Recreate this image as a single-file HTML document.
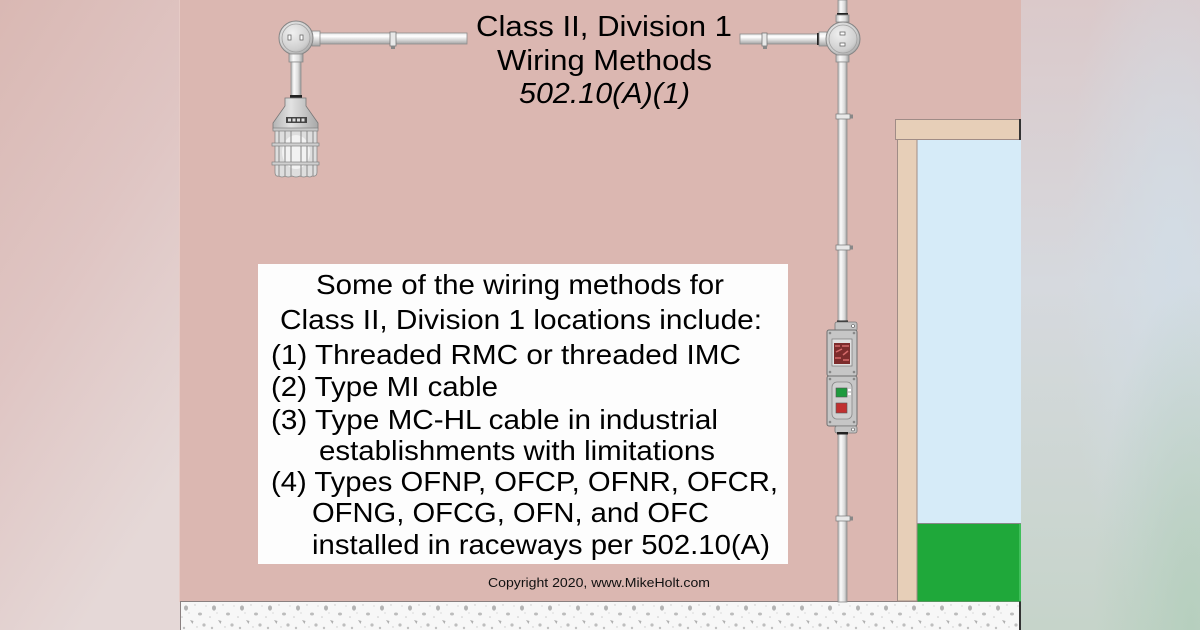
<!DOCTYPE html>
<html><head><meta charset="utf-8"><style>
html,body{margin:0;padding:0;width:1200px;height:630px;overflow:hidden;background:#dbb7b1}
svg{display:block}
</style></head><body>
<svg width="1200" height="630" viewBox="0 0 1200 630" xmlns="http://www.w3.org/2000/svg" font-family="'Liberation Sans', Arial, sans-serif">
<defs>
<linearGradient id="lbg" x1="0" y1="0" x2="0.45" y2="1">
<stop offset="0" stop-color="#d9b8b3"/><stop offset="0.5" stop-color="#dfc5c3"/><stop offset="1" stop-color="#e5d8d7"/>
</linearGradient>
<linearGradient id="rbg" x1="0" y1="0" x2="0" y2="1">
<stop offset="0" stop-color="#dbc9ca"/><stop offset="0.45" stop-color="#d6d9de"/><stop offset="1" stop-color="#c6d4ca"/>
</linearGradient>
<radialGradient id="rbg2" cx="0.85" cy="0.42" r="0.6">
<stop offset="0" stop-color="#d2dde6" stop-opacity="0.9"/><stop offset="1" stop-color="#d2dde6" stop-opacity="0"/>
</radialGradient>
<radialGradient id="rbg3" cx="0.95" cy="1" r="0.55">
<stop offset="0" stop-color="#b6cfbe"/><stop offset="1" stop-color="#b6cfbe" stop-opacity="0"/>
</radialGradient>
<linearGradient id="hp" x1="0" y1="0" x2="0" y2="1">
<stop offset="0" stop-color="#e6e6e6"/><stop offset="0.3" stop-color="#ffffff"/><stop offset="0.65" stop-color="#d4d4d4"/><stop offset="1" stop-color="#a4a4a4"/>
</linearGradient>
<linearGradient id="vp" x1="0" y1="0" x2="1" y2="0">
<stop offset="0" stop-color="#b8b8b8"/><stop offset="0.3" stop-color="#fafafa"/><stop offset="0.7" stop-color="#dcdcdc"/><stop offset="1" stop-color="#9c9c9c"/>
</linearGradient>
<radialGradient id="jb" cx="0.4" cy="0.35" r="0.7">
<stop offset="0" stop-color="#f0f0f0"/><stop offset="0.7" stop-color="#cfcfcf"/><stop offset="1" stop-color="#a8a8a8"/>
</radialGradient>
<linearGradient id="body" x1="0" y1="0" x2="1" y2="0">
<stop offset="0" stop-color="#b4b4b4"/><stop offset="0.4" stop-color="#e2e2e2"/><stop offset="1" stop-color="#a8a8a8"/>
</linearGradient>
<pattern id="fl" width="28" height="29" patternUnits="userSpaceOnUse" x="180" y="602">
<rect width="28" height="29" fill="#f7f7f7"/>
<ellipse cx="6" cy="6" rx="2" ry="2.6" fill="#b4b4b4"/>
<ellipse cx="20" cy="12" rx="2" ry="1.5" fill="#bcbcbc"/>
<path d="M10 18 l3.5 1 -1 3z" fill="#b0b0b0"/>
<circle cx="24" cy="23" r="1.6" fill="#bebebe"/>
<circle cx="2" cy="15" r="0.8" fill="#c8c8c8"/>
<circle cx="15" cy="3" r="0.7" fill="#c8c8c8"/>
<circle cx="17" cy="25" r="0.7" fill="#c8c8c8"/>
<circle cx="9" cy="11" r="0.6" fill="#c8c8c8"/>
<circle cx="26" cy="4" r="0.6" fill="#c8c8c8"/>
<circle cx="4" cy="26" r="1.2" fill="#c0c0c0"/>
</pattern>
</defs>

<!-- side backgrounds -->
<rect x="0" y="0" width="180" height="630" fill="url(#lbg)"/>
<rect x="1021" y="0" width="179" height="630" fill="url(#rbg)"/>
<rect x="1021" y="0" width="179" height="630" fill="url(#rbg2)"/>
<rect x="1021" y="0" width="179" height="630" fill="url(#rbg3)"/>

<!-- wall -->
<rect x="180" y="0" width="841" height="602" fill="#dbb7b1"/>
<line x1="179.5" y1="0" x2="179.5" y2="602" stroke="#e6cbc6" stroke-width="1"/>

<!-- floor -->
<rect x="180" y="601.5" width="841" height="29" fill="url(#fl)"/>
<line x1="180" y1="601.5" x2="1021" y2="601.5" stroke="#8a8080" stroke-width="1"/>
<line x1="180.5" y1="601" x2="180.5" y2="630" stroke="#8a8080" stroke-width="1"/>
<rect x="1019" y="601" width="2" height="29" fill="#333"/>

<!-- door / window -->
<rect x="917" y="139" width="104" height="385" fill="#d6ebf8"/>
<line x1="917" y1="139" x2="917" y2="524" stroke="#9aa8b0" stroke-width="1"/>
<rect x="917" y="523.5" width="104" height="78" fill="#1fa83a"/>
<line x1="917" y1="523.5" x2="1021" y2="523.5" stroke="#888" stroke-width="1"/>
<rect x="1019" y="524" width="2" height="77" fill="#3fbf5a"/>
<rect x="897.5" y="139" width="19.5" height="462" fill="#e7cfb8" stroke="#a08c86" stroke-width="1"/>
<rect x="895.5" y="119.5" width="125" height="20" fill="#e7cfb8" stroke="#a08c86" stroke-width="1"/>
<rect x="1019" y="119" width="2" height="21" fill="#333"/>

<!-- LEFT fixture assembly -->
<rect x="318" y="33" width="149" height="11" fill="url(#hp)" stroke="#8c8c8c" stroke-width="0.8"/>
<rect x="390" y="32" width="6" height="14" fill="#e8e8e8" stroke="#777" stroke-width="0.8"/>
<rect x="391" y="46" width="4" height="3" fill="#888"/>
<rect x="312" y="31" width="8" height="15" fill="url(#hp)" stroke="#888" stroke-width="0.8"/>
<circle cx="296" cy="38" r="17" fill="url(#jb)" stroke="#858585" stroke-width="1"/>
<circle cx="296" cy="38" r="14" fill="none" stroke="#a0a0a0" stroke-width="0.8"/>
<rect x="288" y="35" width="3" height="5" fill="#fff" stroke="#666" stroke-width="0.8"/>
<rect x="300" y="35" width="3" height="5" fill="#fff" stroke="#666" stroke-width="0.8"/>
<rect x="289" y="54" width="14" height="8" fill="url(#vp)" stroke="#888" stroke-width="0.8"/>
<rect x="291" y="62" width="10" height="34" fill="url(#vp)" stroke="#8c8c8c" stroke-width="0.8"/>
<rect x="290" y="95" width="12" height="3" fill="#222"/>
<path d="M285 98 L306 98 L306 106 L318 123 L318 129 L273 129 L273 123 L285 106 Z" fill="url(#body)" stroke="#777" stroke-width="0.8"/>
<rect x="286" y="117" width="21" height="6" fill="#444"/>
<g fill="#ddd"><rect x="288" y="118.5" width="3" height="3"/><rect x="292.5" y="118.5" width="3" height="3"/><rect x="297" y="118.5" width="3" height="3"/><rect x="301.5" y="118.5" width="3" height="3"/></g>
<path d="M275 129 L317 129 L317 172 Q317 177 312 176 Q310 178 307 176 Q304 178 300 176 Q296 178 292 176 Q288 178 285 176 Q282 178 279 176 Q275 177 275 172 Z" fill="#dedede" stroke="#888" stroke-width="0.8"/>
<ellipse cx="296" cy="152" rx="14" ry="17" fill="#f2f2f2"/>
<g stroke="#999" stroke-width="1.2">
<line x1="279" y1="129" x2="279" y2="176"/><line x1="285" y1="129" x2="285" y2="176"/><line x1="291" y1="129" x2="291" y2="177"/><line x1="301" y1="129" x2="301" y2="177"/><line x1="307" y1="129" x2="307" y2="176"/><line x1="313" y1="129" x2="313" y2="176"/>
</g>
<rect x="272" y="143" width="47" height="3" fill="#d0d0d0" stroke="#808080" stroke-width="0.7"/>
<rect x="272" y="162" width="47" height="3" fill="#d0d0d0" stroke="#808080" stroke-width="0.7"/>
<rect x="273" y="128" width="45" height="3" fill="#c8c8c8" stroke="#808080" stroke-width="0.7"/>

<!-- RIGHT assembly -->
<rect x="838" y="0" width="9" height="14" fill="url(#vp)" stroke="#8c8c8c" stroke-width="0.8"/>
<rect x="837" y="13" width="11" height="2.5" fill="#222"/>
<rect x="836" y="15" width="13" height="7" fill="url(#vp)" stroke="#888" stroke-width="0.8"/>
<rect x="740" y="34" width="78" height="10" fill="url(#hp)" stroke="#8c8c8c" stroke-width="0.8"/>
<rect x="762" y="33" width="5" height="13" fill="#e8e8e8" stroke="#777" stroke-width="0.8"/>
<rect x="763" y="46" width="4" height="3" fill="#888"/>
<rect x="817" y="33" width="2.5" height="12" fill="#222"/>
<rect x="819" y="32" width="8" height="14" fill="url(#hp)" stroke="#888" stroke-width="0.8"/>
<circle cx="843" cy="39" r="17" fill="url(#jb)" stroke="#858585" stroke-width="1"/>
<circle cx="843" cy="39" r="14" fill="none" stroke="#a0a0a0" stroke-width="0.8"/>
<rect x="840" y="32" width="5" height="3" fill="#fff" stroke="#666" stroke-width="0.8"/>
<rect x="840" y="43" width="5" height="3" fill="#fff" stroke="#666" stroke-width="0.8"/>
<rect x="836" y="55" width="13" height="7" fill="url(#vp)" stroke="#888" stroke-width="0.8"/>
<rect x="838" y="62" width="9" height="260" fill="url(#vp)" stroke="#8c8c8c" stroke-width="0.8"/>
<rect x="838" y="432" width="9" height="170" fill="url(#vp)" stroke="#8c8c8c" stroke-width="0.8"/>
<g>
<rect x="836" y="114" width="14" height="5" fill="#e8e8e8" stroke="#777" stroke-width="0.7"/><rect x="850" y="114.5" width="3" height="4" fill="#888"/>
<rect x="836" y="245" width="14" height="5" fill="#e8e8e8" stroke="#777" stroke-width="0.7"/><rect x="850" y="245.5" width="3" height="4" fill="#888"/>
<rect x="836" y="516" width="14" height="5" fill="#e8e8e8" stroke="#777" stroke-width="0.7"/><rect x="850" y="516.5" width="3" height="4" fill="#888"/>
</g>
<rect x="837" y="320.5" width="11" height="2.5" fill="#222"/>
<rect x="835" y="322" width="22" height="9" rx="2" fill="#c4c4c4" stroke="#777" stroke-width="0.8"/>
<circle cx="853" cy="326" r="1.5" fill="#fff" stroke="#555" stroke-width="0.6"/>
<rect x="827" y="330" width="30" height="46" rx="2" fill="#c6c6c6" stroke="#6e6e6e" stroke-width="1"/>
<circle cx="830" cy="333" r="1.3" fill="#888"/><circle cx="854" cy="333" r="1.3" fill="#888"/>
<circle cx="830" cy="372" r="1.3" fill="#888"/><circle cx="854" cy="372" r="1.3" fill="#888"/>
<rect x="832" y="339" width="20" height="27" fill="#e0e0e0" stroke="#777" stroke-width="0.7"/>
<rect x="834" y="343" width="16" height="21" fill="#7d2c2c"/>
<path d="M835 346 h5 M842 346 h7 M836 352 l6 -3 M843 355 l5 -4 M835 358 h6 M843 360 h6" stroke="#d46a6a" stroke-width="1.5"/>
<rect x="827" y="376" width="30" height="50" rx="2" fill="#c6c6c6" stroke="#6e6e6e" stroke-width="1"/>
<circle cx="830" cy="379" r="1.3" fill="#888"/><circle cx="854" cy="379" r="1.3" fill="#888"/>
<circle cx="830" cy="422" r="1.3" fill="#888"/><circle cx="854" cy="422" r="1.3" fill="#888"/>
<rect x="832" y="382" width="20" height="37" rx="5" fill="#d0d0d0" stroke="#888" stroke-width="0.8"/>
<rect x="836" y="388" width="11" height="9" fill="#1e9a3e" stroke="#555" stroke-width="0.6"/>
<rect x="836" y="403" width="11" height="10" fill="#c03030" stroke="#555" stroke-width="0.6"/>
<rect x="848" y="389" width="3" height="2" fill="#fff"/><rect x="848" y="393" width="3" height="2" fill="#fff"/>
<rect x="835" y="426" width="22" height="7" rx="2" fill="#c4c4c4" stroke="#777" stroke-width="0.8"/>
<circle cx="853" cy="429.5" r="1.5" fill="#fff" stroke="#555" stroke-width="0.6"/>
<rect x="837" y="432" width="11" height="2.5" fill="#222"/>

<!-- Title -->
<g fill="#000" font-size="29">
<text x="476" y="36" textLength="256" lengthAdjust="spacingAndGlyphs">Class II, Division 1</text>
<text x="497" y="70" textLength="215" lengthAdjust="spacingAndGlyphs">Wiring Methods</text>
<text x="519" y="103" textLength="171" lengthAdjust="spacingAndGlyphs" font-style="italic">502.10(A)(1)</text>
</g>

<!-- text box -->
<rect x="258" y="264" width="530" height="300" fill="#fdfdfd"/>
<g fill="#000" font-size="27.5">
<text x="316" y="294" textLength="408" lengthAdjust="spacingAndGlyphs">Some of the wiring methods for</text>
<text x="280" y="329" textLength="482" lengthAdjust="spacingAndGlyphs">Class II, Division 1 locations include:</text>
<text x="271" y="364" textLength="470" lengthAdjust="spacingAndGlyphs">(1) Threaded RMC or threaded IMC</text>
<text x="271" y="396" textLength="227" lengthAdjust="spacingAndGlyphs">(2) Type MI cable</text>
<text x="271" y="429" textLength="447" lengthAdjust="spacingAndGlyphs">(3) Type MC-HL cable in industrial</text>
<text x="319" y="460" textLength="396" lengthAdjust="spacingAndGlyphs">establishments with limitations</text>
<text x="271" y="491" textLength="507" lengthAdjust="spacingAndGlyphs">(4) Types OFNP, OFCP, OFNR, OFCR,</text>
<text x="312" y="522" textLength="397" lengthAdjust="spacingAndGlyphs">OFNG, OFCG, OFN, and OFC</text>
<text x="312" y="554" textLength="458" lengthAdjust="spacingAndGlyphs">installed in raceways per 502.10(A)</text>
</g>

<!-- copyright -->
<text x="488" y="587" font-size="13" fill="#111" textLength="222" lengthAdjust="spacingAndGlyphs">Copyright 2020, www.MikeHolt.com</text>
</svg>
</body></html>
